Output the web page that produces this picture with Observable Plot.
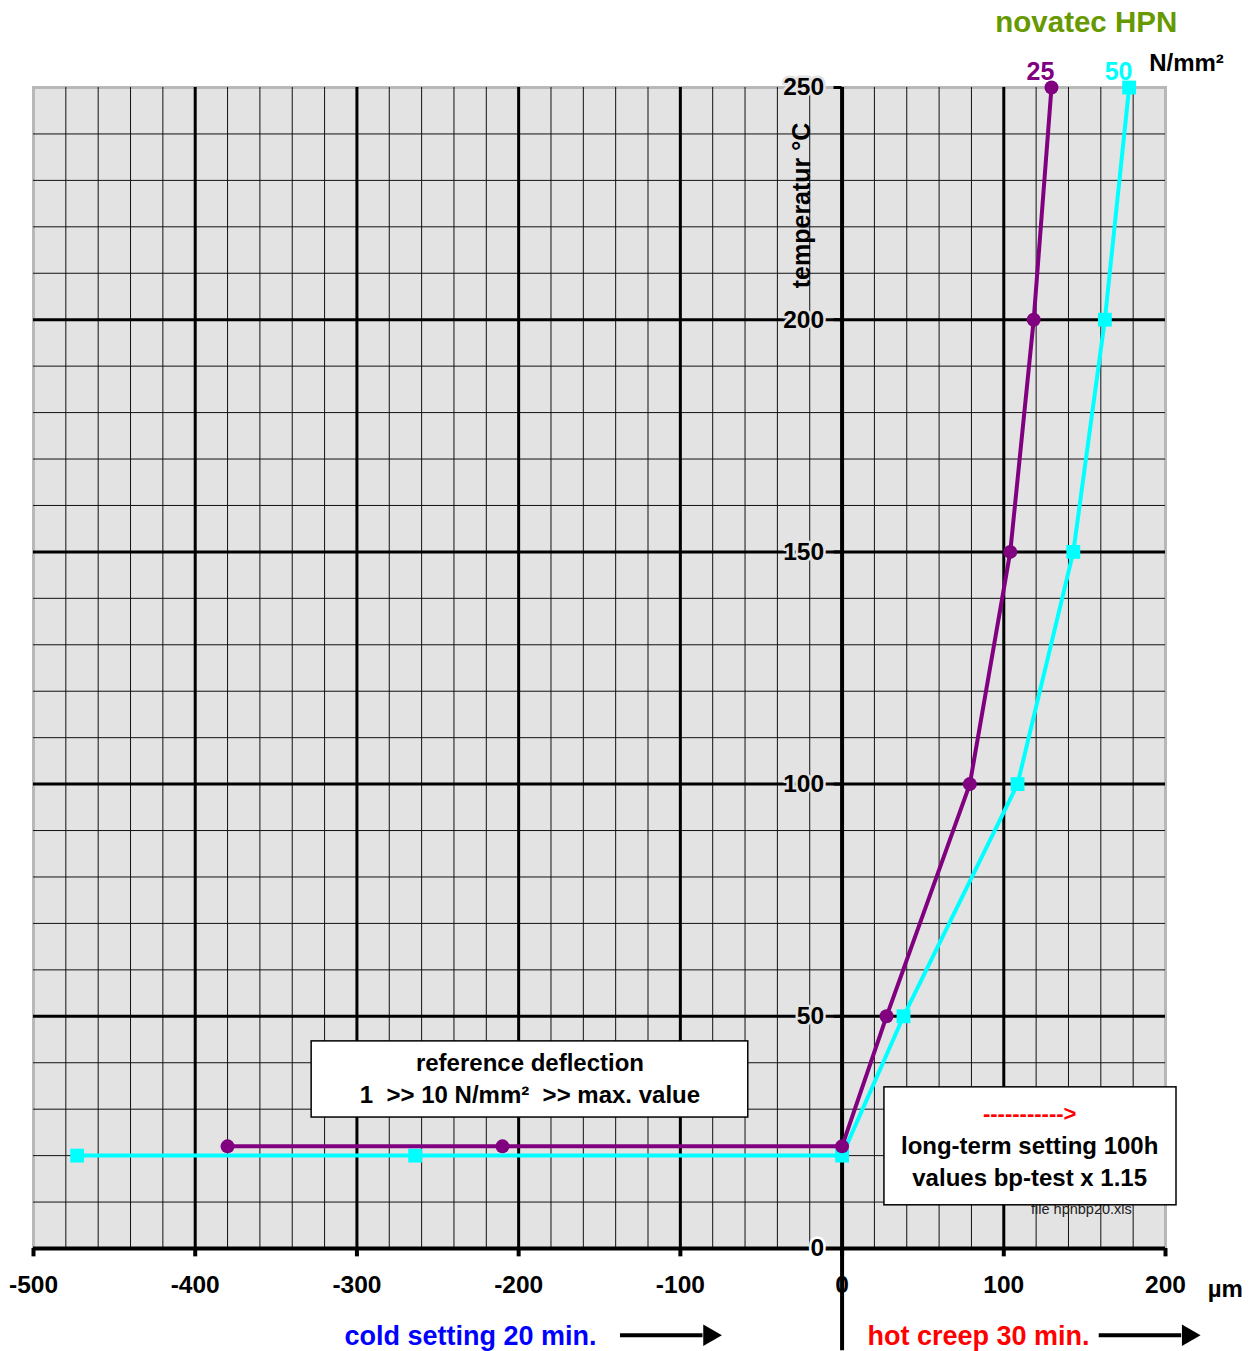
<!DOCTYPE html>
<html>
<head>
<meta charset="utf-8">
<script src="https://cdn.jsdelivr.net/npm/d3@7"></script>
<script src="https://cdn.jsdelivr.net/npm/@observablehq/plot@0.6"></script>
<style>
  html, body { margin: 0; padding: 0; background: #fff; }
  svg { display: block; font-family: "Liberation Sans", Arial, sans-serif; }
</style>
</head>
<body>
<div id="chart"></div>
<script>
// ---- data ----
const series25 = [
  {x: -380, y: 22}, {x: -210, y: 22}, {x: 0, y: 22}, {x: 27.5, y: 50},
  {x: 79, y: 100}, {x: 104, y: 150}, {x: 118.5, y: 200}, {x: 129.5, y: 250}
];
const series50 = [
  {x: -473, y: 20}, {x: -264, y: 20}, {x: 0, y: 20}, {x: 38, y: 50},
  {x: 108.5, y: 100}, {x: 143, y: 150}, {x: 162.5, y: 200}, {x: 177.5, y: 250}
];
const xTicks = [-500, -400, -300, -200, -100, 0, 100, 200];
const yTicks = [0, 50, 100, 150, 200, 250];
const xMinor = d3.range(-480, 200, 20).filter(v => v % 100 !== 0);
const yMinor = d3.range(10, 250, 10).filter(v => v % 50 !== 0);
const xMajor = [-400, -300, -200, -100, 100];
const yMajor = [50, 100, 150, 200];

const font = "Liberation Sans, Arial, sans-serif";

const chart = Plot.plot({
  width: 1258,
  height: 1351,
  marginLeft: 33,
  marginRight: 93,
  marginTop: 87,
  marginBottom: 103,
  x: {domain: [-500, 200], axis: null},
  y: {domain: [0, 250], axis: null},
  style: {fontFamily: font, background: "#fff"},
  marks: [
    Plot.frame({fill: "#e3e3e3", stroke: "#b8b8b8", strokeWidth: 3}),
    // minor grid
    Plot.ruleX(xMinor, {stroke: "#111", strokeWidth: 1}),
    Plot.ruleY(yMinor, {stroke: "#111", strokeWidth: 1}),
    // major grid
    Plot.ruleX(xMajor, {stroke: "#000", strokeWidth: 3}),
    Plot.ruleY(yMajor, {stroke: "#000", strokeWidth: 3}),
    // x axis line + ticks
    Plot.ruleY([0], {stroke: "#000", strokeWidth: 4}),
    Plot.ruleX(xTicks, {y1: 0, y2: -1.8, stroke: "#000", strokeWidth: 4}),
    // y axis (extends below)
    Plot.ruleX([0], {y1: -22, y2: 250, stroke: "#000", strokeWidth: 4}),
    Plot.ruleY(yTicks, {x1: 0, x2: -5, stroke: "#000", strokeWidth: 3}),
    // y tick labels
    Plot.text(yTicks, {x: 0, y: d => d, text: d => String(d), textAnchor: "end", dx: -18,
      fontSize: 24.5, fontWeight: "bold", fill: "#000", stroke: d => d === 0 ? "#fff" : "#e3e3e3", strokeWidth: 5}),
    // x tick labels
    Plot.text(xTicks, {x: d => d, y: -8, text: d => String(d), fontSize: 24.5, fontWeight: "bold", fill: "#000"}),
    Plot.text(["µm"], {x: 237, y: -8.8, text: d => d, fontSize: 24, fontWeight: "bold", fill: "#000"}),
    // y axis title
    Plot.text(["temperatur °C"], {x: -24.5, y: 224.6, text: d => d, rotate: -90, fontSize: 25, fontWeight: "bold", fill: "#000"}),
    // file note (partly hidden by box)
    Plot.text(["file hpnbp20.xls"], {x: 148, y: 8.4, text: d => d, fontSize: 14.5, fill: "#222"}),
    // box 1
    Plot.rect([{x1: -328, x2: -58, y1: 28.2, y2: 44.6}], {x1: "x1", x2: "x2", y1: "y1", y2: "y2", fill: "#fff", stroke: "#000", strokeWidth: 1.5}),
    Plot.text(["reference deflection"], {x: -193, y: 39.8, text: d => d, fontSize: 24, fontWeight: "bold", fill: "#000"}),
    Plot.text(["1  >> 10 N/mm²  >> max. value"], {x: -193, y: 32.9, text: d => d, fontSize: 24, fontWeight: "bold", fill: "#000"}),
    // box 2
    Plot.rect([{x1: 26.2, x2: 206.8, y1: 9.3, y2: 34.7}], {x1: "x1", x2: "x2", y1: "y1", y2: "y2", fill: "#fff", stroke: "#000", strokeWidth: 1.5}),
    Plot.text(["----------->"], {x: 116, y: 28.9, text: d => d, fontSize: 22, fontWeight: "bold", fill: "#ff0000"}),
    Plot.text(["long-term setting 100h"], {x: 116, y: 22.1, text: d => d, fontSize: 24, fontWeight: "bold", fill: "#000"}),
    Plot.text(["values bp-test x 1.15"], {x: 116, y: 15.2, text: d => d, fontSize: 24, fontWeight: "bold", fill: "#000"}),
    // series
    Plot.line(series50, {x: "x", y: "y", stroke: "#00ffff", strokeWidth: 4}),
    Plot.dot(series50, {x: "x", y: "y", symbol: "square", r: 7.8, fill: "#00ffff"}),
    Plot.line(series25, {x: "x", y: "y", stroke: "#800080", strokeWidth: 4}),
    Plot.dot(series25, {x: "x", y: "y", symbol: "circle", r: 7, fill: "#800080"}),
    // series labels
    Plot.text(["25"], {x: 122.7, y: 253.3, text: d => d, fontSize: 25, fontWeight: "bold", fill: "#800080"}),
    Plot.text(["50"], {x: 171, y: 253.3, text: d => d, fontSize: 25, fontWeight: "bold", fill: "#00ffff"}),
    Plot.text(["N/mm²"], {x: 213, y: 255.2, text: d => d, fontSize: 24, fontWeight: "bold", fill: "#000"}),
    // title
    Plot.text(["novatec HPN"], {x: 151, y: 264, text: d => d, fontSize: 29.5, fontWeight: "bold", fill: "#669900"}),
    // bottom annotations
    Plot.text(["cold setting 20 min."], {x: -229.8, y: -19, text: d => d, fontSize: 27, fontWeight: "bold", fill: "#0000ff"}),
    Plot.ruleY([-18.7], {x1: -137, x2: -86, stroke: "#000", strokeWidth: 4}),
    Plot.dot([{x: -82, y: -18.7}], {x: "x", y: "y", symbol: "triangle", rotate: 90, r: 8, fill: "#000"}),
    Plot.text(["hot creep 30 min."], {x: 84.4, y: -19, text: d => d, fontSize: 27, fontWeight: "bold", fill: "#ff0000"}),
    Plot.ruleY([-18.7], {x1: 159, x2: 210, stroke: "#000", strokeWidth: 4}),
    Plot.dot([{x: 214, y: -18.7}], {x: "x", y: "y", symbol: "triangle", rotate: 90, r: 8, fill: "#000"})
  ]
});
document.getElementById("chart").appendChild(chart);
</script>
</body>
</html>
